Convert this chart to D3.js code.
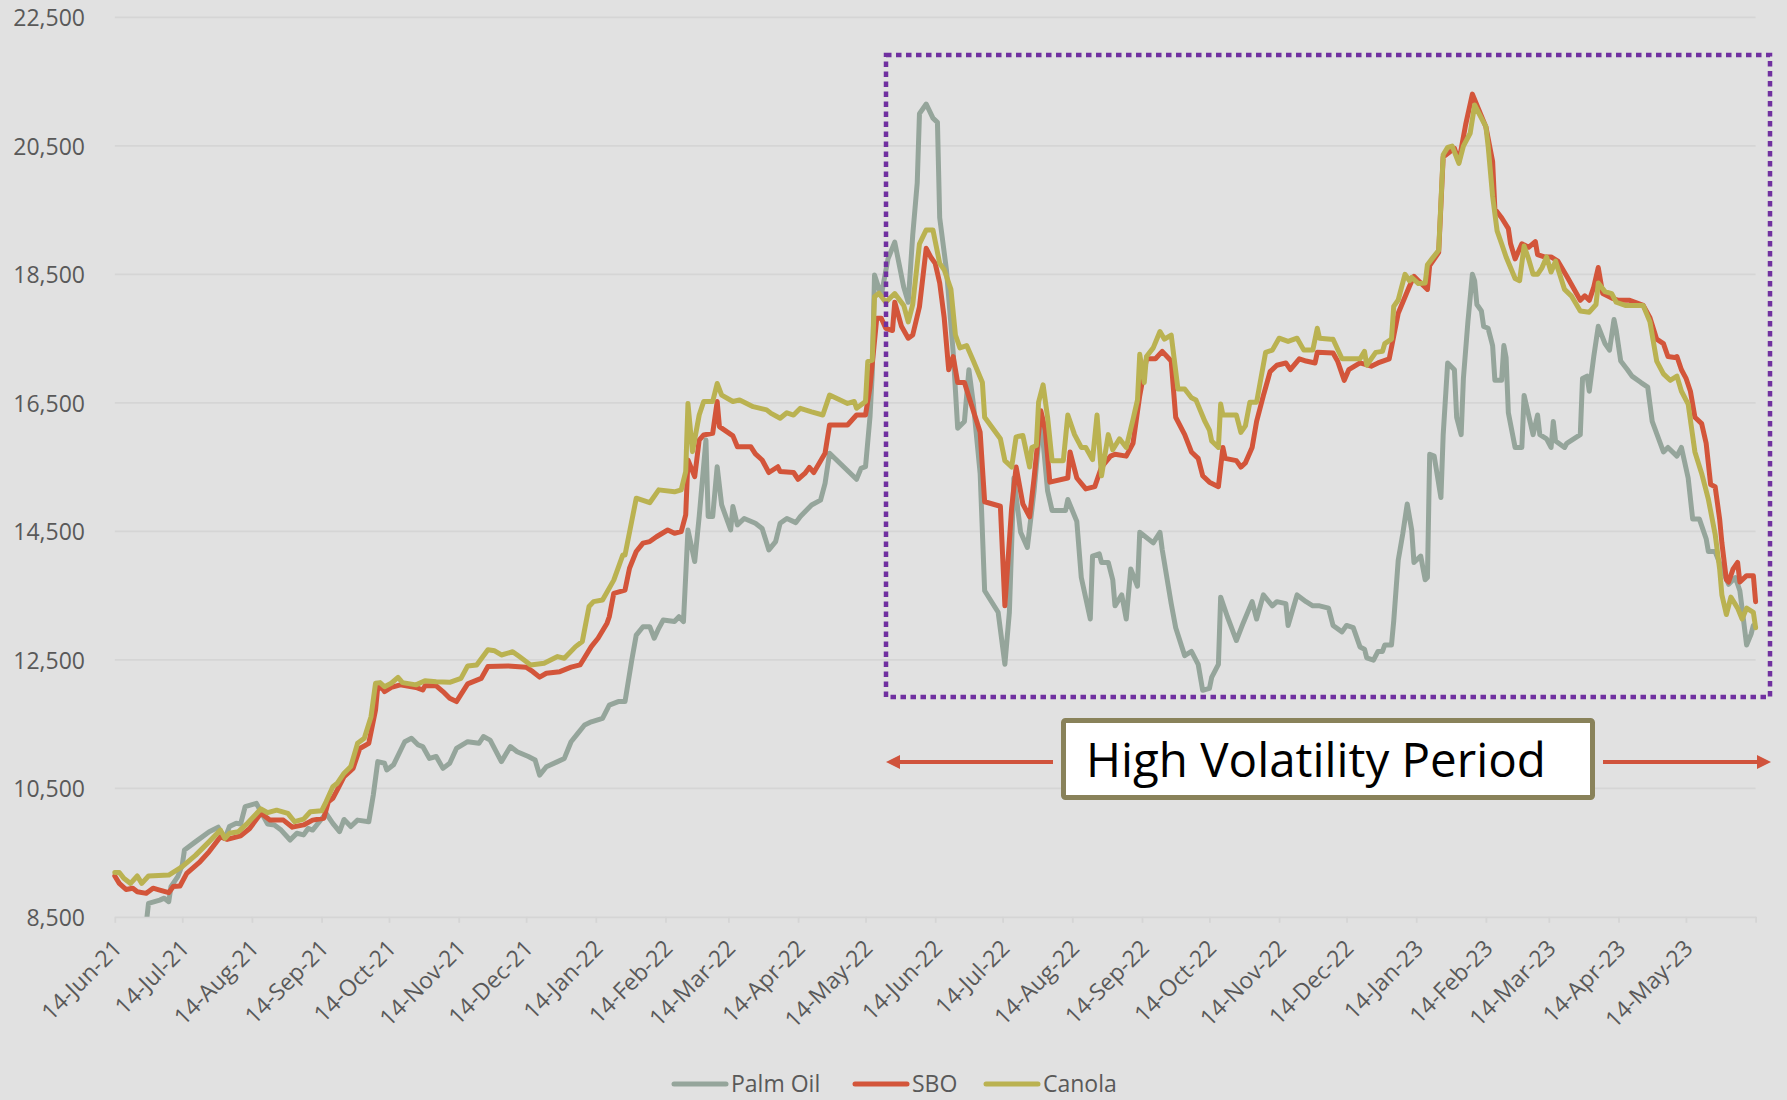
<!DOCTYPE html>
<html>
<head>
<meta charset="utf-8">
<script src="https://cdn.jsdelivr.net/npm/d3@7"></script>
<style>
html, body { margin: 0; padding: 0; background: #e1e1e1; }
svg { display: block; font-family: "Open Sans", "DejaVu Sans", sans-serif; }
</style>
</head>
<body>
<svg id="chart" width="1787" height="1100"></svg>
<script>
// ---------------- DATA ----------------
const startDate = "2021-06-14";
const endDate = "2023-06-14";
const yTickValues = [8500, 10500, 12500, 14500, 16500, 18500, 20500, 22500];
const seriesNames = ["Palm Oil", "SBO", "Canola"];
const annotationLabel = "High Volatility Period";

// [days after 14-Jun-21, price]
const palmOil = [[14,8400],[15,8710],[20,8760],[22,8790],[24,8735],[25,8970],[28,9125],[30,9305],[31,9540],[36,9670],[42,9825],[46,9895],[49,9720],[51,9905],[54,9955],[56,9945],[58,10215],[63,10265],[65,10135],[68,9945],[71,9930],[74,9850],[78,9695],[81,9800],[84,9775],[86,9875],[88,9850],[91,9980],[94,10110],[97,9955],[100,9825],[102,10015],[105,9905],[108,10005],[113,9980],[115,10395],[117,10915],[120,10890],[121,10785],[124,10865],[129,11225],[132,11280],[135,11175],[137,11150],[140,10965],[143,10995],[146,10810],[149,10890],[152,11120],[157,11225],[162,11200],[164,11305],[167,11250],[172,10915],[176,11150],[179,11070],[184,10995],[187,10940],[189,10705],[192,10835],[197,10915],[200,10965],[203,11225],[206,11355],[209,11485],[212,11535],[217,11590],[220,11795],[224,11850],[227,11850],[230,12495],[232,12885],[235,13015],[238,13015],[240,12835],[242,12990],[244,13120],[249,13095],[251,13170],[253,13095],[255,14520],[258,14030],[260,14730],[263,15920],[264,14730],[266,14730],[268,15505],[270,14910],[274,14520],[275,14885],[277,14600],[280,14700],[285,14625],[288,14545],[291,14210],[294,14340],[296,14625],[299,14700],[303,14635],[305,14730],[310,14910],[314,14985],[316,15245],[318,15715],[330,15310],[332,15480],[334,15505],[336,16285],[337,16960],[338,18490],[341,18170],[344,18740],[347,19000],[351,18300],[353,18065],[355,19110],[357,19920],[358,21000],[361,21150],[364,20930],[366,20865],[367,19380],[370,18570],[373,17285],[375,16105],[378,16210],[380,17015],[382,16480],[385,15400],[387,13575],[393,13240],[396,12430],[398,13240],[400,15330],[403,14485],[406,14250],[409,15130],[412,16275],[415,15130],[417,14825],[423,14825],[424,14995],[428,14655],[430,13780],[434,13135],[435,14115],[438,14150],[439,14015],[442,14015],[444,13745],[445,13340],[448,13510],[450,13135],[452,13915],[455,13645],[456,14485],[462,14320],[465,14485],[466,14215],[470,13375],[472,13000],[476,12565],[479,12630],[482,12430],[484,12025],[487,12055],[488,12225],[491,12430],[492,13475],[495,13170],[499,12800],[502,13070],[506,13405],[508,13135],[511,13510],[515,13340],[517,13405],[521,13375],[522,13035],[526,13510],[530,13405],[533,13340],[536,13340],[540,13305],[542,13035],[546,12935],[548,13035],[551,13000],[554,12700],[556,12665],[557,12530],[560,12495],[562,12630],[564,12630],[565,12730],[568,12730],[569,13105],[571,14050],[573,14455],[575,14925],[577,14520],[578,14015],[581,14115],[583,13745],[584,13780],[585,15700],[587,15670],[590,15025],[591,16000],[593,17120],[596,17015],[597,16275],[599,16005],[600,16880],[602,17760],[604,18500],[605,18400],[606,18030],[608,17930],[609,17690],[611,17660],[613,17390],[614,16850],[617,16850],[618,17390],[619,17200],[620,16345],[623,15805],[626,15805],[627,16615],[631,16005],[633,16310],[634,16005],[637,15940],[639,15805],[640,16210],[641,15905],[645,15805],[646,15870],[652,16005],[653,16880],[655,16915],[656,16680],[658,17220],[660,17690],[663,17420],[665,17320],[667,17795],[668,17625],[670,17150],[673,17015],[675,16915],[679,16815],[682,16745],[684,16210],[689,15735],[691,15805],[695,15670],[697,15805],[700,15330],[702,14690],[705,14690],[708,14385],[709,14185],[712,14185],[715,13915],[718,13675],[721,13780],[723,13575],[726,12730],[728,12900],[729,13035]];

const sbo = [[0,9135],[2,9020],[5,8925],[8,8945],[10,8890],[14,8865],[17,8945],[20,8915],[24,8875],[26,8970],[29,8980],[32,9175],[38,9360],[42,9515],[47,9745],[50,9705],[56,9760],[60,9875],[65,10110],[69,10005],[75,10005],[79,9895],[84,9930],[88,10005],[93,10035],[95,10290],[97,10345],[99,10475],[102,10680],[106,10810],[109,11120],[113,11200],[116,11720],[117,12080],[119,12055],[120,12005],[123,12070],[127,12110],[134,12070],[137,12030],[138,12095],[143,12095],[146,12005],[149,11900],[152,11850],[157,12125],[163,12210],[166,12395],[175,12405],[183,12385],[186,12315],[189,12230],[192,12290],[198,12315],[203,12385],[207,12420],[212,12705],[215,12835],[219,13070],[220,13170],[222,13535],[227,13585],[229,13925],[232,14185],[235,14315],[238,14340],[241,14415],[246,14520],[249,14470],[252,14495],[254,14755],[255,15610],[258,15350],[260,15920],[262,16000],[266,16025],[268,16520],[269,16130],[275,15985],[277,15815],[283,15815],[285,15705],[288,15610],[291,15415],[295,15505],[296,15430],[302,15415],[304,15310],[307,15400],[309,15495],[311,15415],[316,15715],[318,16155],[326,16155],[330,16310],[334,16310],[336,16750],[339,17815],[341,17815],[343,17660],[346,17625],[347,18065],[350,17690],[353,17505],[355,17555],[358,17995],[361,18905],[363,18770],[365,18670],[367,18365],[369,17825],[371,17015],[373,17220],[375,16815],[378,16815],[381,16480],[385,16040],[387,14960],[394,14890],[396,13340],[399,14860],[401,15500],[404,14925],[407,14725],[409,15330],[412,16375],[414,16075],[416,15265],[424,15330],[425,15735],[428,15330],[432,15160],[436,15195],[439,15500],[443,15670],[445,15700],[450,15670],[453,15870],[456,16610],[459,17185],[463,17185],[466,17300],[470,17150],[472,16275],[476,16005],[479,15735],[482,15635],[484,15365],[487,15265],[491,15195],[493,15805],[494,15635],[499,15600],[501,15500],[503,15565],[506,15805],[508,16210],[511,16610],[514,16985],[517,17085],[521,17120],[523,17015],[527,17185],[530,17150],[534,17120],[535,17285],[542,17275],[544,17150],[547,16850],[549,17015],[554,17120],[559,17070],[562,17120],[567,17185],[571,17895],[576,18315],[578,18470],[580,18400],[584,18265],[585,18635],[589,18840],[591,20325],[596,20460],[598,20255],[601,20830],[604,21305],[610,20795],[613,20255],[614,19515],[617,19380],[620,19210],[621,18975],[623,18740],[626,18975],[629,18920],[632,19010],[633,18805],[636,18770],[639,18770],[642,18705],[646,18470],[652,18095],[654,18165],[656,18095],[658,18300],[660,18605],[662,18200],[666,18130],[669,18095],[674,18095],[680,18015],[683,17825],[686,17490],[689,17420],[691,17220],[694,17205],[695,17220],[697,17015],[699,16885],[701,16680],[703,16275],[706,16175],[708,15870],[710,15230],[712,15195],[714,14690],[715,14320],[717,13745],[718,13710],[720,13915],[722,14015],[723,13710],[726,13810],[729,13810],[730,13405]];

const canola = [[0,9190],[2,9190],[4,9100],[7,9020],[10,9135],[12,9020],[15,9135],[24,9150],[30,9280],[36,9460],[42,9670],[47,9850],[49,9720],[51,9800],[55,9825],[59,9955],[65,10180],[68,10120],[72,10160],[77,10110],[80,9980],[84,10020],[87,10135],[92,10150],[94,10290],[97,10525],[99,10580],[102,10735],[105,10840],[108,11200],[111,11280],[114,11615],[116,12135],[118,12145],[120,12080],[123,12135],[126,12225],[128,12145],[134,12110],[138,12175],[143,12160],[149,12150],[154,12210],[157,12405],[161,12420],[166,12655],[169,12640],[172,12575],[177,12625],[180,12550],[185,12420],[191,12445],[197,12550],[200,12525],[205,12705],[208,12785],[211,13330],[213,13405],[217,13430],[222,13740],[226,14130],[227,14130],[232,15015],[238,14945],[242,15145],[249,15115],[252,15145],[254,15430],[255,16490],[257,15740],[260,16310],[262,16520],[266,16520],[268,16800],[270,16620],[275,16520],[278,16545],[284,16440],[290,16390],[292,16335],[296,16260],[299,16345],[302,16310],[305,16415],[310,16360],[315,16310],[318,16620],[326,16490],[329,16520],[330,16415],[334,16520],[335,17140],[337,17165],[338,18150],[340,18205],[343,18065],[347,18200],[351,18015],[353,17760],[355,18030],[358,18975],[361,19190],[364,19190],[367,18670],[369,18570],[372,18265],[374,17555],[376,17355],[379,17390],[382,17150],[386,16815],[387,16275],[394,15940],[396,15600],[399,15500],[401,15970],[404,15990],[407,15500],[408,15805],[410,15835],[411,16510],[413,16780],[415,16275],[417,15600],[422,15600],[424,16310],[427,16005],[430,15805],[432,15805],[435,15615],[437,16310],[439,15365],[442,16005],[444,15770],[447,15940],[450,15805],[453,16240],[455,16545],[456,17255],[458,16815],[459,17220],[462,17355],[465,17610],[467,17490],[470,17555],[473,16715],[476,16715],[479,16580],[481,16545],[485,16210],[487,16075],[488,15905],[491,15805],[492,16480],[493,16310],[499,16310],[501,16040],[503,16140],[505,16510],[508,16510],[512,17285],[515,17320],[518,17505],[522,17455],[526,17505],[529,17320],[533,17320],[535,17660],[536,17505],[541,17490],[542,17490],[546,17185],[554,17185],[556,17300],[557,17085],[561,17285],[564,17300],[565,17420],[568,17490],[569,18000],[571,18100],[574,18500],[576,18400],[577,18450],[580,18355],[583,18365],[584,18650],[586,18740],[589,18875],[591,20360],[593,20475],[595,20495],[598,20225],[600,20495],[603,20695],[605,21135],[608,20930],[610,20800],[611,20495],[613,19715],[615,19175],[617,18975],[619,18770],[623,18435],[625,18400],[627,18940],[629,18740],[631,18500],[633,18500],[635,18605],[637,18770],[639,18535],[641,18705],[645,18265],[648,18165],[652,17930],[656,17910],[659,18030],[660,18365],[663,18230],[666,18200],[668,18065],[672,18015],[680,18015],[683,17760],[686,17150],[689,16950],[692,16850],[695,16915],[697,16680],[700,16480],[703,15735],[706,15400],[709,14995],[712,14455],[714,13915],[715,13510],[717,13205],[719,13475],[722,13305],[724,13135],[726,13305],[729,13240],[730,13000]];

const seriesData = [palmOil, sbo, canola];

// ---------------- STYLE ----------------
const seriesColors = ["#95a59b", "#d3553a", "#bab251"];
const textColor = "#595959";
const gridColor = "#d5d5d5";

// ---------------- CHART ----------------
const svg = d3.select("#chart");
const W = 1787, H = 1100;
const plot = { left: 114.8, right: 1755.6, top: 17.3, bottom: 916.8 };

svg.append("rect").attr("width", W).attr("height", H).attr("fill", "#e1e1e1");

const parse = d3.utcParse("%Y-%m-%d");
const t0 = parse(startDate), t1 = parse(endDate);

const x = d3.scaleUtc().domain([t0, t1]).range([plot.left, plot.right]);
const y = d3.scaleLinear().domain([8500, 22500]).range([plot.bottom, plot.top]);

// gridlines
svg.append("g").selectAll("line")
  .data(yTickValues.slice(1))
  .join("line")
  .attr("x1", plot.left).attr("x2", plot.right)
  .attr("y1", d => y(d)).attr("y2", d => y(d))
  .attr("stroke", gridColor).attr("stroke-width", 1.8);

// y labels
const yAxis = d3.axisLeft(y).tickValues(yTickValues).tickFormat(d3.format(",")).tickSize(0).tickPadding(0);
const gy = svg.append("g").attr("transform", "translate(85,0)").call(yAxis);
gy.select(".domain").remove();
gy.selectAll("text")
  .attr("fill", textColor).attr("font-size", 23)
  .attr("font-family", "'Open Sans', sans-serif")
  .attr("dy", "0.36em");

// x axis
const monthTicks = d3.range(25).map(i => d3.utcMonth.offset(t0, i));
const fmt = d3.utcFormat("%d-%b-%y");
const xAxis = d3.axisBottom(x).tickValues(monthTicks)
  .tickFormat((d, i) => i === monthTicks.length - 1 ? "" : fmt(d))
  .tickSize(6).tickSizeOuter(0);
const gx = svg.append("g").attr("transform", `translate(0,${plot.bottom})`).call(xAxis);
gx.select(".domain").attr("stroke", gridColor).attr("stroke-width", 1.8);
gx.selectAll(".tick line").attr("stroke", gridColor).attr("stroke-width", 1.8);
gx.selectAll(".tick text")
  .attr("fill", textColor).attr("font-size", 23)
  .attr("font-family", "'Open Sans', sans-serif")
  .attr("text-anchor", "end")
  .attr("x", 0).attr("y", 0).attr("dy", 0)
  .attr("transform", "translate(8,33) rotate(-45)");

// clip
svg.append("defs").append("clipPath").attr("id", "plotClip")
  .append("rect").attr("x", plot.left - 5).attr("y", 0)
  .attr("width", plot.right - plot.left + 10).attr("height", plot.bottom);

const line = d3.line()
  .x(d => x(d3.utcDay.offset(t0, d[0])))
  .y(d => y(d[1]));

const gLines = svg.append("g").attr("clip-path", "url(#plotClip)");
seriesData.forEach((s, i) => {
  gLines.append("path")
    .datum(s)
    .attr("d", line)
    .attr("fill", "none")
    .attr("stroke", seriesColors[i])
    .attr("stroke-width", 5)
    .attr("stroke-linejoin", "round")
    .attr("stroke-linecap", "round");
});

// ---------------- ANNOTATIONS ----------------
// dotted box
svg.append("rect")
  .attr("x", 886).attr("y", 55).attr("width", 884).attr("height", 642)
  .attr("fill", "none").attr("stroke", "#7030a0")
  .attr("stroke-width", 4.5).attr("stroke-dasharray", "5.5 4.5");

// arrows
const arrowColor = "#d0533c";
const arrowY = 762;
function arrow(xFrom, xTip) {
  const dir = xTip > xFrom ? 1 : -1;
  const headLen = 14;
  svg.append("line")
    .attr("x1", xFrom).attr("x2", xTip - dir * headLen * 0.8)
    .attr("y1", arrowY).attr("y2", arrowY)
    .attr("stroke", arrowColor).attr("stroke-width", 4);
  svg.append("path")
    .attr("d", `M${xTip},${arrowY} L${xTip - dir * headLen},${arrowY - 7} L${xTip - dir * headLen},${arrowY + 7} Z`)
    .attr("fill", arrowColor);
}
arrow(1053, 886);
arrow(1603, 1771);

// label box
svg.append("rect")
  .attr("x", 1063.5).attr("y", 720.5).attr("width", 529).attr("height", 77)
  .attr("rx", 2)
  .attr("fill", "#ffffff").attr("stroke", "#89825a").attr("stroke-width", 5);
svg.append("text")
  .attr("x", 1086).attr("y", 777)
  .attr("font-size", 47.5)
  .attr("font-family", "'Open Sans', sans-serif")
  .attr("fill", "#000000")
  .text(annotationLabel);

// ---------------- LEGEND ----------------
const legend = svg.append("g");
const legendStarts = [674, 855, 986];
const ly = 1084;
seriesNames.forEach((name, i) => {
  const lx = legendStarts[i];
  legend.append("line")
    .attr("x1", lx).attr("x2", lx + 52)
    .attr("y1", ly).attr("y2", ly)
    .attr("stroke", seriesColors[i]).attr("stroke-width", 5)
    .attr("stroke-linecap", "round");
  legend.append("text")
    .attr("x", lx + 57).attr("y", ly + 8)
    .attr("font-size", 23)
    .attr("font-family", "'Open Sans', sans-serif")
    .attr("fill", textColor)
    .text(name);
});
</script>
</body>
</html>
